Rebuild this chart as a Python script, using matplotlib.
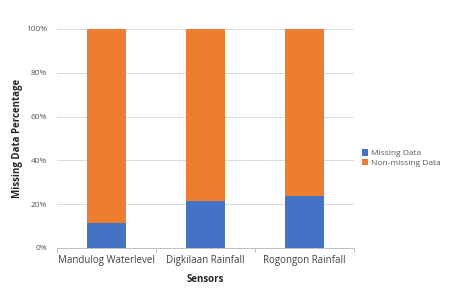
import matplotlib.pyplot as plt
import numpy as np

sensors = ['Mandulog Waterlevel', 'Digkilaan Rainfall', 'Rogongon Rainfall']
missing = [11.6, 21.5, 23.6]
non_missing = [100 - v for v in missing]

blue = '#4472C4'
orange = '#ED7D31'

plt.rcParams['font.family'] = ['Open Sans', 'DejaVu Sans']

fig = plt.figure(figsize=(4.66, 2.92), dpi=100)
ax = fig.add_axes([0.122, 0.151, 0.638, 0.750])

x = np.arange(len(sensors))
ax.bar(x, missing, width=0.4, color=blue, label='Missing Data', zorder=3)
ax.bar(x, non_missing, width=0.4, bottom=missing, color=orange,
       label='Non-missing Data', zorder=3)

ax.set_xlim(-0.5, len(sensors) - 0.5)
ax.set_ylim(0, 100)
ax.set_yticks(np.arange(0, 101, 20))
ax.set_yticklabels([f'{v}%' for v in range(0, 101, 20)], fontsize=6, color='#595959')
ax.tick_params(axis='y', length=0, pad=7)
ax.grid(axis='y', color='#D9D9D9', linewidth=0.7, zorder=0)

ax.set_xticks(x)
ax.set_xticklabels(sensors, fontsize=7, color='#404040')
ax.set_xticks(np.arange(-0.5, len(sensors), 1), minor=True)
ax.tick_params(axis='x', which='major', length=0, pad=5)
ax.tick_params(axis='x', which='minor', length=3, color='#BFBFBF', width=0.7)

for s in ['top', 'right', 'left']:
    ax.spines[s].set_visible(False)
ax.spines['bottom'].set_color('#BFBFBF')
ax.spines['bottom'].set_linewidth(0.7)

ax.set_xlabel('Sensors', fontsize=7, fontweight='bold', color='#262626', labelpad=6)
ax.set_ylabel('Missing Data Percentage', fontsize=7, fontweight='bold', color='#262626', labelpad=2)

ax.legend(loc='center left', bbox_to_anchor=(1.0, 0.41), frameon=False, fontsize=6,
          handlelength=0.8, handleheight=0.8, handletextpad=0.3, labelspacing=0.2,
          labelcolor='#595959')

plt.savefig('out.png', dpi=100)
